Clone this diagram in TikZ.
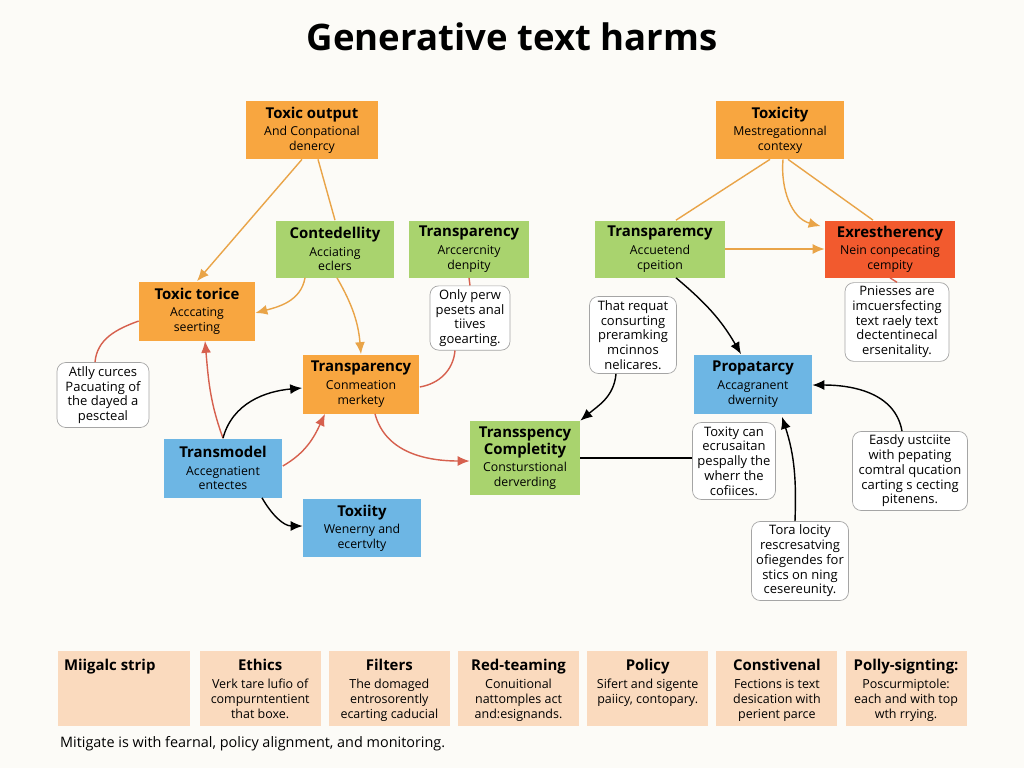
\documentclass[tikz,border=0pt]{standalone}
\usepackage{fontspec}
\setmainfont{Open Sans}
\usepackage{xcolor}
\usetikzlibrary{arrows.meta,positioning,calc}

\definecolor{bgcol}{HTML}{FCFBF7}
\definecolor{orgbox}{HTML}{F8A640}
\definecolor{grnbox}{HTML}{A9D36E}
\definecolor{blubox}{HTML}{6DB6E4}
\definecolor{exrcol}{HTML}{F25A2E}
\definecolor{stripcol}{HTML}{FADABE}
\definecolor{orgline}{HTML}{E9A448}
\definecolor{redline}{HTML}{D6604E}
\definecolor{notedraw}{HTML}{A5A5A5}

\newcommand{\hdt}[1]{{\fontsize{8.5}{10}\selectfont\bfseries #1}}
\newcommand{\hd}[1]{\hdt{#1}\\[2pt]}
\newcommand{\stripcell}[2]{\parbox[c][1.16cm][t]{2.3cm}{\centering\fontsize{7.1}{8.4}\selectfont\hd{#1}#2}}

\begin{document}
\begin{tikzpicture}[
    x=0.02cm, y=-0.02cm,
    box/.style={
        minimum height=1.16cm,
        inner sep=2pt,
        align=center,
        font=\fontsize{7}{8.2}\selectfont
    },
    orangebox/.style={box, fill=orgbox},
    greenbox/.style={box, fill=grnbox},
    bluebox/.style={box, fill=blubox},
    redbox/.style={box, fill=exrcol},
    note/.style={
        draw=notedraw,
        fill=white,
        rounded corners=5pt,
        align=center,
        inner sep=2pt,
        font=\fontsize{7.4}{8.4}\selectfont
    },
    stripbox/.style={fill=stripcol, minimum height=1.5cm, minimum width=2.42cm, inner sep=0pt},
    oarrow/.style={draw=orgline, line width=0.8pt, -{Latex[length=2.4mm,width=2mm]}},
    oline/.style={draw=orgline, line width=0.8pt},
    rarrow/.style={draw=redline, line width=0.8pt, -{Latex[length=2.4mm,width=2mm]}},
    rline/.style={draw=redline, line width=0.8pt},
    barrow/.style={draw=black, line width=0.8pt, -{Latex[length=2.4mm,width=2mm]}},
    bline/.style={draw=black, line width=0.8pt}
]
\fill[bgcol] (0,0) rectangle (1024,768);
\useasboundingbox (0,0) rectangle (1024,768);

\node[font=\fontsize{20.8}{24}\selectfont\bfseries] (title) at (512,37) {Generative text harms};

% harm boxes
\node[orangebox, minimum width=2.66cm] (tout) at (312,130) {\hd{Toxic output}And Conpational\\denercy};
\node[orangebox, minimum width=2.58cm] (txcv) at (780,130) {\hd{Toxicity}Mestregationnal\\contexy};
\node[greenbox, minimum width=2.38cm, minimum height=1.14cm] (cont) at (335,249) {\hd{Contedellity}Acciating\\eclers};
\node[greenbox, minimum width=2.4cm, minimum height=1.14cm] (tra1) at (469,249) {\hd{Transparency}Arccercnity\\denpity};
\node[greenbox, minimum width=2.6cm, minimum height=1.14cm] (tra2) at (660,249) {\hd{Transparemcy}Accuetend\\cpeition};
\node[redbox, minimum width=2.6cm, minimum height=1.14cm] (exr) at (890,249) {\hd{Exrestherency}Nein conpecating\\cempity};
\node[orangebox, minimum width=2.32cm, minimum height=1.18cm] (ttor) at (197,311) {\hd{Toxic torice}Acccating\\seerting};
\node[orangebox, minimum width=2.34cm, minimum height=1.18cm] (tra3) at (361,384) {\hd{Transparency}Conmeation\\merkety};
\node[bluebox, minimum width=2.36cm, minimum height=1.18cm] (prop) at (753,384) {\hd{Propatarcy}Accagranent\\dwernity};
\node[bluebox, minimum width=2.38cm, minimum height=1.18cm] (tmod) at (223,468) {\hd{Transmodel}Accegnatient\\entectes};
\node[greenbox, minimum width=2.2cm, minimum height=1.48cm] (tcom) at (525,458) {\hdt{Transspency}\\\hd{Completity}Consturstional\\derverding};
\node[bluebox, minimum width=2.36cm] (txty) at (362,528) {\hd{Toxiity}Wenerny and\\ecertvlty};

% notes
\node[note, minimum width=1.6cm, minimum height=1.28cm] (only) at (470,318) {Only perw\\pesets anal\\tiives\\goearting.};
\node[note, minimum width=1.84cm, minimum height=1.3cm] (ally) at (103,395) {Atlly curces\\Pacuating of\\the dayed a\\pescteal};
\node[note, minimum width=1.74cm, minimum height=1.54cm] (treq) at (633,335) {That requat\\consurting\\preramking\\mcinnos\\nelicares.};
\node[note, minimum width=2.08cm, minimum height=1.52cm] (pnie) at (897,322) {Pniesses are\\imcuersfecting\\text raely text\\dectentinecal\\ersenitality.};
\node[note, minimum width=1.66cm, minimum height=1.54cm] (tcan) at (734,461) {Toxity can\\ecrusaitan\\pespally the\\wherr the\\cofiices.};
\node[note, minimum width=2.3cm, minimum height=1.54cm] (easd) at (910,471) {Easdy ustciite\\with pepating\\comtral qucation\\carting s cecting\\pitenens.};
\node[note, minimum width=1.94cm, minimum height=1.54cm] (tora) at (800,561) {Tora locity\\rescresatving\\ofiegendes for\\stics on ning\\cesereunity.};

% connectors
\draw[oarrow] ($(tout.south)+(-10,0)$) -- (ttor.north);
\draw[oline] ($(tout.south)+(6,0)$) -- (cont.north);
\draw[oarrow] ($(cont.south)+(-30,0)$) to[out=-100,in=15] ($(ttor.east)+(0,2)$);
\draw[oarrow] ($(cont.south)+(2,0)$) to[out=-60,in=95] (tra3.north);
\draw[rline] (tra1.south) -- (only.north);
\draw[rline] ($(only.south)+(-15,0)$) to[out=-95,in=10] ($(tra3.east)+(0,3)$);
\draw[rline] ($(ttor.west)+(0,10)$) to[out=200,in=85] ($(ally.north)+(-8,0)$);
\draw[rarrow] (tmod.north) to[out=110,in=-85] ($(ttor.south)+(8,0)$);
\draw[barrow] (tmod.north) to[out=75,in=185] ($(tra3.west)+(0,4)$);
\draw[rarrow] ($(tmod.east)+(0,-2)$) to[out=30,in=-115] ($(tra3.south)+(-36,0)$);
\draw[rarrow] ($(tra3.south)+(14,0)$) to[out=-75,in=180] ($(tcom.west)+(0,3)$);
\draw[barrow] ($(tmod.south)+(39,0)$) to[out=-60,in=180] ($(txty.west)+(0,-2)$);
\draw[bline] (tcom.east) -- (tcom.east -| tcan.west);
\draw[barrow] ($(treq.south)+(-17,0)$) to[out=-95,in=40] (tcom.north east);
\draw[barrow] ($(tra2.south)+(16,0)$) to[out=-40,in=120] ($(prop.north)+(-12,0)$);
\draw[oline] ($(txcv.south)+(-10,0)$) -- ($(tra2.north)+(16,0)$);
\draw[oarrow] ($(txcv.south)+(3,0)$) to[out=-95,in=165] ($(exr.north west)+(-4,6)$);
\draw[oline] ($(txcv.south)+(8,0)$) -- ($(exr.north)+(-17,0)$);
\draw[oarrow] (tra2.east) -- (exr.west);
\draw[rline] (exr.south) -- (pnie.north);
\draw[barrow] ($(easd.north)+(-8,0)$) to[out=100,in=0] ($(prop.east)+(0,1)$);
\draw[barrow] ($(tora.north)+(-5,0)$) to[out=88,in=-72] ($(prop.south)+(29,3)$);

% mitigation strip
\node[stripbox, minimum width=2.64cm] (mit) at (124,688) {\parbox[c][1.16cm][t]{2.4cm}{\fontsize{8.5}{10}\selectfont\bfseries Miigalc strip}};
\node[stripbox, right=0.18cm of mit] (eth) {\stripcell{Ethics}{Verk tare lufio of\\compurntentient\\that boxe.}};
\node[stripbox, right=0.15cm of eth] (filt) {\stripcell{Filters}{The domaged\\entrosorently\\ecarting caducial}};
\node[stripbox, right=0.15cm of filt] (redt) {\stripcell{Red-teaming}{Conuitional\\nattomples act\\and:esignands.}};
\node[stripbox, right=0.15cm of redt] (pol) {\stripcell{Policy}{Sifert and sigente\\paiicy, contopary.}};
\node[stripbox, right=0.15cm of pol] (cons) {\stripcell{Constivenal}{Fections is text\\desication with\\perient parce}};
\node[stripbox, right=0.15cm of cons] (poly) {\stripcell{Polly-signting:}{Poscurmiptole:\\each and with top\\wth rrying.}};

\node[anchor=west, font=\fontsize{8.2}{10}\selectfont] (capt) at (54,744) {Mitigate is with fearnal, policy alignment, and monitoring.};
\end{tikzpicture}
\end{document}
